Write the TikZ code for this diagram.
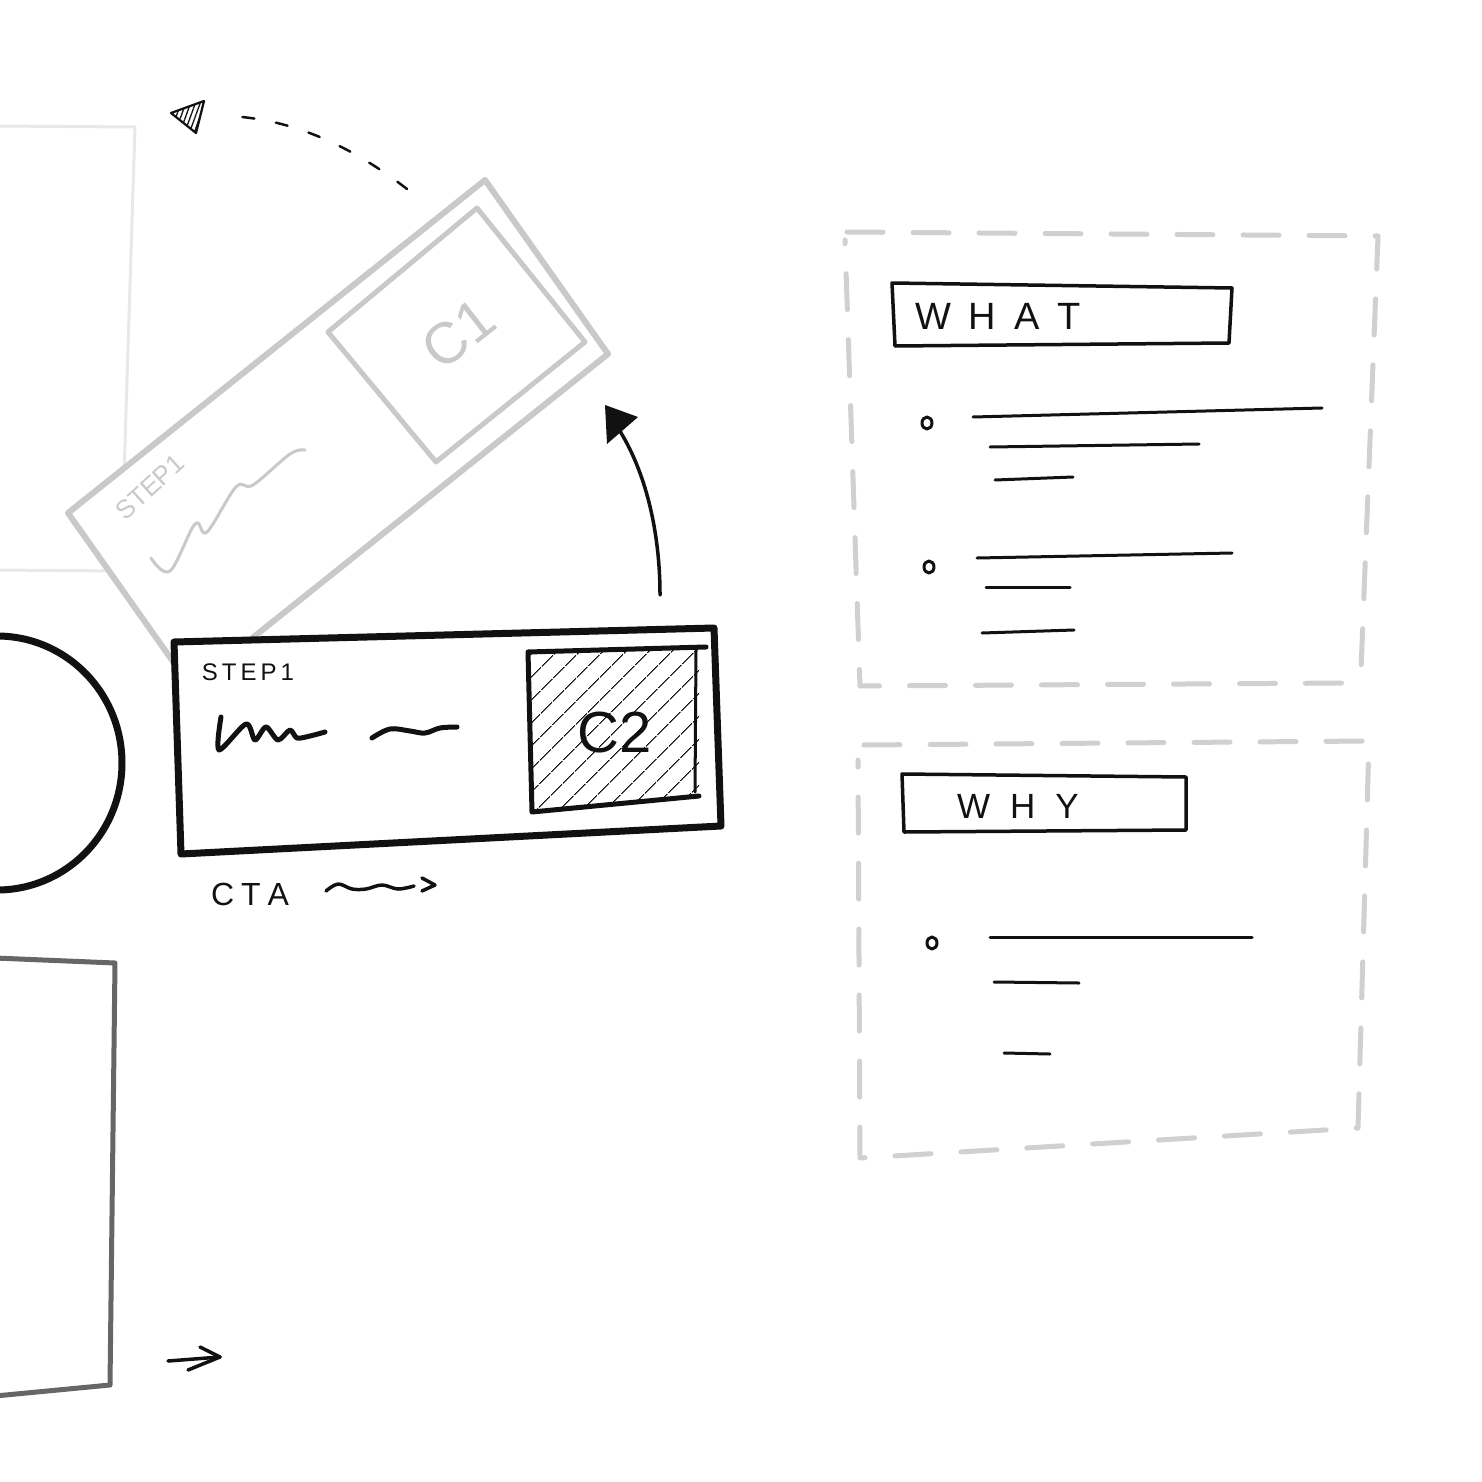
\documentclass[tikz,border=0pt]{standalone}
\usepackage{fontspec}
\setmainfont{Liberation Sans}
\usetikzlibrary{patterns.meta,arrows.meta}
\definecolor{ink}{HTML}{111111}
\definecolor{ghost}{HTML}{C9C9C9}
\definecolor{faint}{HTML}{E8E8E8}
\definecolor{midgray}{HTML}{666666}
\definecolor{dashgray}{HTML}{D0D0D0}
\begin{document}
\begin{tikzpicture}[x=1pt,y=-1pt,line cap=round,line join=round,
  ghostline/.style={draw=ghost,line width=6pt},
  panel/.style={draw=dashgray,line width=5pt,dash pattern=on 36pt off 30pt},
  titlebox/.style={draw=ink,line width=3.5pt},
  bullet/.style={draw=ink,line width=3pt},
  hand/.style={inner sep=0pt,text=ink}]
\useasboundingbox (0,0) rectangle (1481,1482);

% faint rectangle top left
\draw[faint,line width=3pt] (-5,126) -- (135,127) -- (121,571) -- (-5,570);

% tilted ghost card
\draw[ghostline,fill=white] (68,513) -- (485,180) -- (608,354) -- (191,687) -- cycle;
\draw[draw=ghost,line width=5pt] (328,332) -- (477,208) -- (585,342) -- (436,462) -- cycle;
\node[hand,text=ghost,font=\fontsize{58}{58}\selectfont,rotate=38] (c1) at (458,334) {C1};
\node[hand,text=ghost,font=\fontsize{26}{26}\selectfont,rotate=42] (gstep) at (150,487) {STEP1};
\draw[ghost,line width=3pt] plot[smooth,tension=0.6] coordinates {(151,558) (170,571) (195,524) (207,532) (236,487) (253,485) (290,454) (305,450)};

% dashed arrow
\coordinate (da) at (407,189);
\coordinate (db) at (226,116);
\draw[ink,line width=2.5pt,dash pattern=on 12pt off 22pt] (da) .. controls (350,145) and (290,118) .. (db);
\coordinate (dt) at (171,113);
\fill[pattern={Lines[angle=70,distance=4.5pt,line width=1.3pt]},pattern color=ink] (dt) -- (204,101) -- (196,133) -- cycle;
\draw[ink,line width=2.2pt] (dt) -- (204,101) -- (196,133) -- cycle;

% circle
\draw[ink,line width=7pt] (-3,763) ellipse [x radius=125,y radius=127];

% main card
\draw[draw=ink,line width=7pt,fill=white] (174,642) -- (714,628) -- (721,826) -- (181,854) -- cycle;
\fill[pattern={Lines[angle=45,distance=17pt,line width=1.2pt]},pattern color=ink] (528,652) -- (699,648) -- (699,796) -- (532,812) -- cycle;
\draw[ink,line width=5pt] (706,647) -- (528,652) -- (532,812) -- (699,796);
\draw[ink,line width=3pt] (696,650) -- (695,792);
\node[hand,font=\fontsize{58}{58}\selectfont] (c2) at (615,733) {C2};
\node[hand,font=\fontsize{24}{24}\selectfont] (step) at (248,672) {S\kern4pt T\kern4pt E\kern4pt P\kern4pt 1};
\draw[ink,line width=5pt] plot[smooth,tension=0.5] coordinates {(221,717) (219,750) (246,724) (255,740) (266,727) (278,740) (290,730) (297,738) (310,736) (325,732)};
\draw[ink,line width=5pt] plot[smooth,tension=0.6] coordinates {(372,738) (390,729) (410,731) (425,733) (440,728) (457,727)};

% CTA
\node[hand,font=\fontsize{32}{32}\selectfont] (cta) at (250,894) {C\kern7pt T\kern7pt A};
\draw[ink,line width=3.5pt] plot[smooth,tension=0.6] coordinates {(326,891) (338,884) (352,889) (366,889) (382,885) (398,889) (414,886)};
\draw[ink,line width=3.5pt] (422,878) -- (435,885) -- (422,891);

% solid arrow
\coordinate (sa) at (660,595);
\coordinate (sb) at (618,428);
\draw[ink,line width=3.5pt] (sa) .. controls (660,530) and (645,470) .. (sb);
\fill[ink] (605,405) -- (607,444) -- (638,417) -- cycle;

% mid gray rect
\draw[midgray,line width=5pt] (-5,958) -- (115,963) -- (110,1385) -- (-5,1396);

% small arrow
\coordinate (aa) at (168,1361);
\coordinate (ab) at (220,1357);
\draw[ink,line width=3.5pt] (aa) -- (ab);
\draw[ink,line width=3.5pt] (200,1347) -- (ab) -- (188,1370);

% WHAT panel
\draw[panel] (847,232) -- (1378,236) -- (1361,670) -- (1347,683) -- (860,686) -- (845,240);
\draw[titlebox] (892,283) -- (1232,288) -- (1229,343) -- (895,346) -- cycle;
\node[hand,font=\fontsize{38}{38}\selectfont] (what) at (998,316) {W\kern18pt H\kern18pt A\kern18pt T};
\draw[bullet] (927,423) ellipse [x radius=5,y radius=6];
\draw[bullet] (973,417) -- (1322,408);
\draw[bullet] (990,447) -- (1199,444);
\draw[bullet] (995,480) -- (1073,477);
\draw[bullet] (929,567) ellipse [x radius=5,y radius=6];
\draw[bullet] (977,558) -- (1232,553);
\draw[bullet] (986,587) -- (1070,587);
\draw[bullet] (982,633) -- (1074,630);

% WHY panel
\draw[panel] (864,745) -- (1369,741) -- (1358,1128) -- (860,1158) -- (858,760);
\draw[titlebox] (902,774) -- (1186,777) -- (1186,830) -- (904,832) -- cycle;
\node[hand,font=\fontsize{35}{35}\selectfont] (why) at (1018,806) {W\kern20pt H\kern20pt Y};
\draw[bullet] (932,943) ellipse [x radius=5,y radius=6];
\draw[bullet] (990,937) -- (1252,937);
\draw[bullet] (994,982) -- (1079,983);
\draw[bullet] (1004,1053) -- (1050,1054);
\end{tikzpicture}
\end{document}
